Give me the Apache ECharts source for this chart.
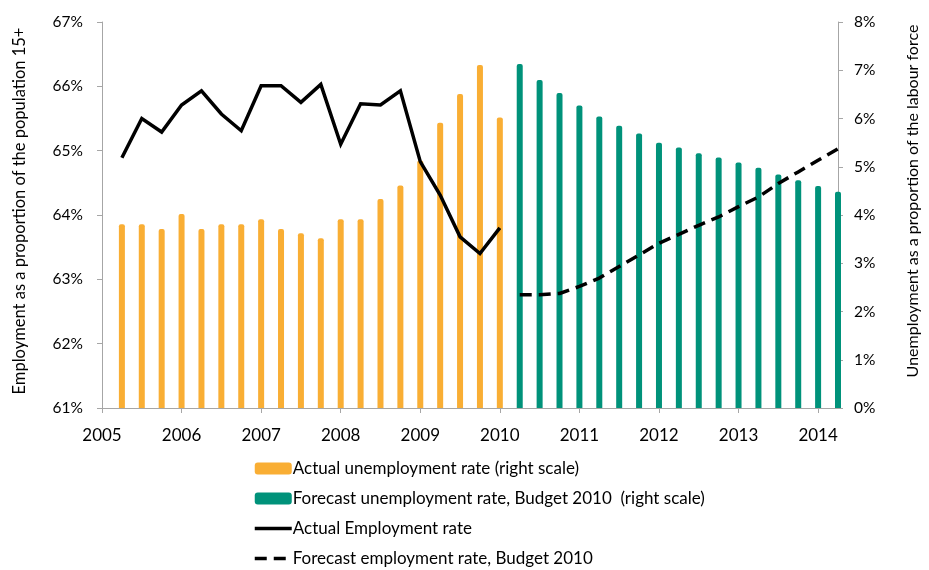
<!DOCTYPE html>
<html>
<head>
<meta charset="utf-8">
<script src="https://cdn.jsdelivr.net/npm/echarts@6/dist/echarts.min.js"></script>
<style>
  html, body { margin: 0; padding: 0; background: #fff; }
  #chart { width: 929px; height: 570px; }
</style>
</head>
<body>
<div id="chart"></div>
<script>
// Quarterly time points (decimal years)
const actualQuarters = [
  2005.25, 2005.5, 2005.75, 2006.0, 2006.25, 2006.5, 2006.75, 2007.0,
  2007.25, 2007.5, 2007.75, 2008.0, 2008.25, 2008.5, 2008.75, 2009.0,
  2009.25, 2009.5, 2009.75, 2010.0
];
const forecastQuarters = [
  2010.25, 2010.5, 2010.75, 2011.0, 2011.25, 2011.5, 2011.75, 2012.0,
  2012.25, 2012.5, 2012.75, 2013.0, 2013.25, 2013.5, 2013.75, 2014.0, 2014.25
];

// Unemployment rate, % of labour force (right scale)
const actualUnemployment = [
  3.81, 3.81, 3.71, 4.02, 3.71, 3.81, 3.81, 3.91,
  3.71, 3.62, 3.52, 3.91, 3.91, 4.33, 4.61, 5.13,
  5.91, 6.51, 7.11, 6.02
];
const forecastUnemployment = [
  7.13, 6.80, 6.53, 6.27, 6.04, 5.85, 5.69, 5.50,
  5.40, 5.28, 5.19, 5.09, 4.98, 4.84, 4.72, 4.60, 4.48
];

// Employment rate, % of population 15+ (left scale)
const actualEmployment = [
  64.89, 65.50, 65.29, 65.71, 65.93, 65.57, 65.31, 66.01,
  66.01, 65.75, 66.03, 65.10, 65.73, 65.71, 65.93, 64.83,
  64.31, 63.66, 63.40, 63.80
];
const forecastEmployment = [
  62.76, 62.76, 62.78, 62.89, 63.02, 63.20, 63.38, 63.56,
  63.70, 63.84, 63.97, 64.13, 64.28, 64.49, 64.67, 64.85, 65.03
];

const seriesNames = [
  'Actual unemployment rate (right scale)',
  'Forecast unemployment rate, Budget 2010  (right scale)',
  'Actual Employment rate',
  'Forecast employment rate, Budget 2010'
];

const pair = (xs, ys) => xs.map((x, i) => [x, ys[i]]);

const FONT = 'Lato';
const axisGrey = '#a6a6a6';

const chart = echarts.init(document.getElementById('chart'), null, { renderer: 'canvas' });

chart.setOption({
  animation: false,
  backgroundColor: '#ffffff',
  textStyle: { fontFamily: FONT, color: '#000' },
  grid: { left: 102, right: 86, top: 22, bottom: 162, containLabel: false },
  legend: {
    orient: 'vertical',
    left: 253,
    top: 460,
    height: 140,
    padding: 0,
    itemGap: 13,
    itemWidth: 37,
    itemHeight: 12,
    textStyle: { fontFamily: FONT, fontSize: 17, color: '#000', padding: [0, 0, 0, -4] },
    data: [
      { name: seriesNames[0], itemStyle: { borderRadius: 0 } },
      { name: seriesNames[1], itemStyle: { borderRadius: 0 } },
      // line entries: keep only the stroke, hide the marker
      { name: seriesNames[2], itemStyle: { opacity: 0 }, lineStyle: { width: 3.5 } },
      { name: seriesNames[3], itemStyle: { opacity: 0 }, lineStyle: { width: 3.5 } }
    ]
  },
  xAxis: {
    type: 'value',
    min: 2005,
    max: 2014.25,
    interval: 1,
    splitLine: { show: false },
    axisLine: { lineStyle: { color: axisGrey, width: 1 } },
    axisTick: { show: true, length: 5, lineStyle: { color: axisGrey } },
    axisLabel: {
      fontFamily: FONT, fontSize: 17, color: '#000', margin: 19,
      showMaxLabel: false,
      formatter: v => String(Math.round(v))
    }
  },
  yAxis: [
    {
      type: 'value',
      position: 'left',
      min: 61, max: 67, interval: 1,
      name: 'Employment as a proportion of the population 15+',
      nameLocation: 'middle',
      nameGap: 74,
      nameTextStyle: { fontFamily: FONT, fontSize: 16.5, color: '#000', padding: [0, 0, 0, 8] },
      splitLine: { show: false },
      axisLine: { show: true, lineStyle: { color: axisGrey } },
      axisTick: { show: true, length: 5, lineStyle: { color: axisGrey } },
      axisLabel: { fontFamily: FONT, fontSize: 15.5, color: '#000', margin: 19, formatter: '{value}%' }
    },
    {
      type: 'value',
      position: 'right',
      min: 0, max: 8, interval: 1,
      name: 'Unemployment as a proportion of the labour force',
      nameLocation: 'middle',
      nameGap: 67,
      nameRotate: 90,
      nameTextStyle: { fontFamily: FONT, fontSize: 16, color: '#000', padding: [0, 0, 0, 28] },
      splitLine: { show: false },
      axisLine: { show: true, lineStyle: { color: axisGrey } },
      axisTick: { show: true, length: 5, lineStyle: { color: axisGrey } },
      axisLabel: { fontFamily: FONT, fontSize: 15.5, color: '#000', margin: 16, formatter: '{value}%' }
    }
  ],
  series: [
    {
      name: seriesNames[0],
      type: 'bar',
      yAxisIndex: 1,
      barWidth: 6,
      barGap: '-100%',
      clip: true,
      itemStyle: { color: '#F9AE34', borderRadius: [2, 2, 0, 0] },
      data: pair(actualQuarters, actualUnemployment)
    },
    {
      name: seriesNames[1],
      type: 'bar',
      yAxisIndex: 1,
      barWidth: 6,
      barGap: '-100%',
      clip: true,
      z: 3,
      itemStyle: { color: '#00927A', borderRadius: [2, 2, 0, 0] },
      data: pair(forecastQuarters, forecastUnemployment)
    },
    {
      name: seriesNames[2],
      type: 'line',
      yAxisIndex: 0,
      symbol: 'none',
      z: 5,
      lineStyle: { color: '#000', width: 3.5, join: 'miter' },
      itemStyle: { color: '#000' },
      data: pair(actualQuarters, actualEmployment)
    },
    {
      name: seriesNames[3],
      type: 'line',
      yAxisIndex: 0,
      symbol: 'none',
      z: 5,
      clip: false,
      lineStyle: { color: '#000', width: 3.5, type: [12, 7] },
      itemStyle: { color: '#000' },
      data: pair(forecastQuarters, forecastEmployment)
    }
  ]
});
</script>
</body>
</html>
